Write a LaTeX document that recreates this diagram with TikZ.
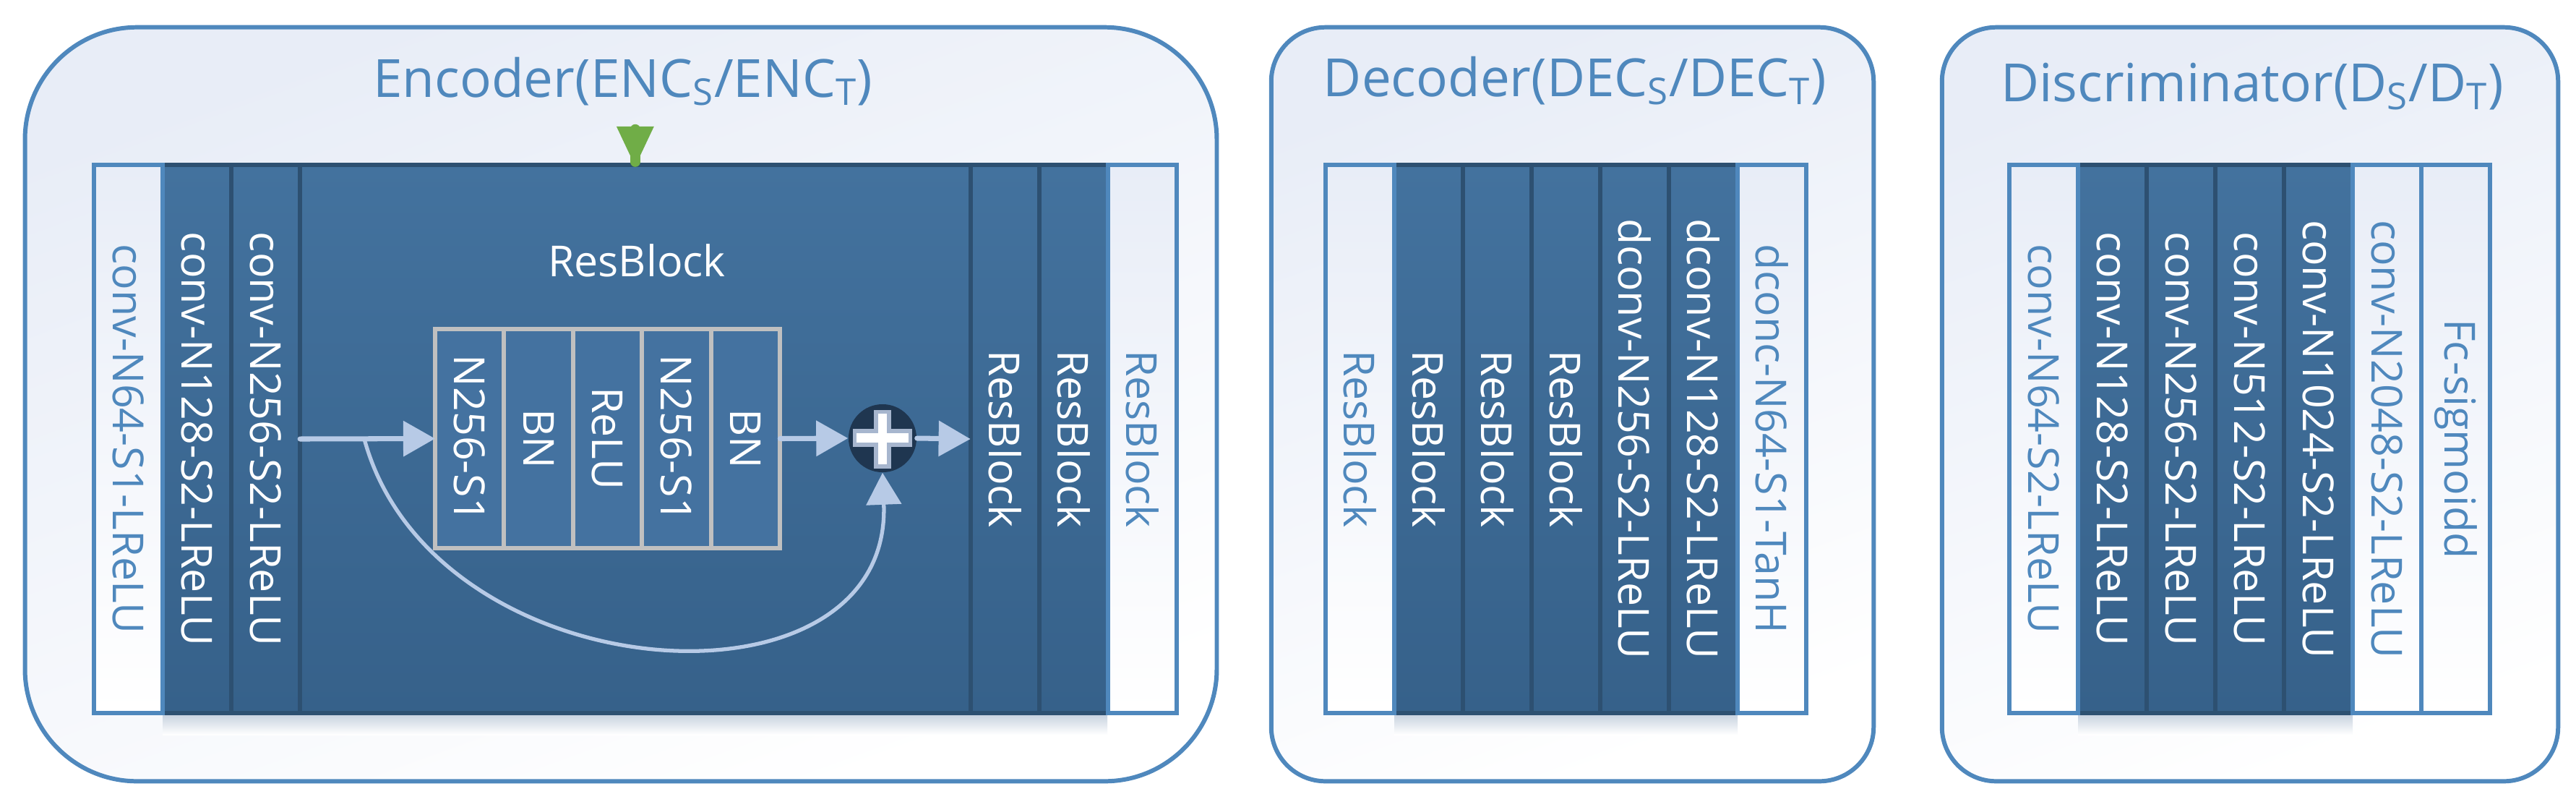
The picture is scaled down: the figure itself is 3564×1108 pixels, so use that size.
\documentclass[tikz,border=0pt]{standalone}
\usepackage{fontspec}
\setmainfont{Open Sans}
\usetikzlibrary{arrows.meta,positioning}
\definecolor{boxblue}{RGB}{79,136,189}
\definecolor{boxfill}{RGB}{232,237,247}
\definecolor{darktop}{RGB}{67,114,158}
\definecolor{darkbot}{RGB}{54,97,138}
\definecolor{darkline}{RGB}{45,80,113}
\definecolor{innerfill}{RGB}{68,114,160}
\definecolor{innerline}{RGB}{192,192,192}
\definecolor{arrowc}{RGB}{183,202,230}
\definecolor{plusdark}{RGB}{31,54,80}
\definecolor{plusedge}{RGB}{167,182,206}
\definecolor{markgreen}{RGB}{112,173,71}
\definecolor{shadowc}{RGB}{197,208,222}

\newcommand{\colfont}{\fontsize{16.8}{20}\selectfont}
\newcommand{\titlefont}{\fontsize{20.7}{25}\selectfont}
\newcommand{\vlabel}[1]{\rotatebox{-90}{#1}}

\tikzset{
  outerbox/.style={draw=boxblue, line width=1.7pt, top color=boxfill, bottom color=white, shading angle=20, inner sep=0pt, outer sep=0pt},
  colbase/.style={rectangle, line width=1.7pt, minimum width=0.95cm, minimum height=7.58cm, inner sep=0pt, outer sep=0pt, font=\colfont},
  lightcol/.style={colbase, draw=boxblue, top color=boxfill, bottom color=white, text=boxblue},
  darkcol/.style={colbase, draw=darkline, top color=darktop, bottom color=darkbot, text=white},
  innercol/.style={colbase, minimum width=0.954cm, minimum height=3.03cm, draw=innerline, fill=innerfill, text=white},
  flow/.style={arrowc, line width=2pt, line cap=round, -{Triangle[length=0.44cm, width=0.48cm]}},
  titletext/.style={font=\titlefont, text=boxblue, anchor=base, inner sep=0pt}
}

\begin{document}
\begin{tikzpicture}[x=0.01cm, y=-0.01cm]
  \useasboundingbox (0,0) rectangle (3564,1108);

  % Encoder
  \node[outerbox, rounded corners=1.55cm, minimum width=16.48cm, minimum height=10.42cm] (enc) at (859,559) {};
  \node[titletext] (enctitle) at (862,134) {Encoder(ENC\textsubscript{S}/ENC\textsubscript{T})};
  \shade[top color=shadowc, bottom color=white] (225,987) rectangle (1532,1016);

  \node[darkcol] (e2) at (272.5,607) {\vlabel{conv-N128-S2-LReLU}};
  \node[darkcol, right=0pt of e2] (e3) {\vlabel{conv-N256-S2-LReLU}};
  \node[darkcol, right=0pt of e3, minimum width=9.27cm] (e4) {};
  \node[darkcol, right=0pt of e4] (e5) {\vlabel{ResBlock}};
  \node[darkcol, right=0pt of e5] (e6) {\vlabel{ResBlock}};
  \node[lightcol, left=0pt of e2] (e1) {\vlabel{conv-N64-S1-LReLU}};
  \node[lightcol, right=0pt of e6] (e7) {\vlabel{ResBlock}};

  % green marker on top of the ResBlock
  \begin{scope}[shift={(e4.north)}]
    \fill[markgreen] (-26,-53) -- (26,-53) -- (0,2) -- cycle;
    \draw[markgreen, line width=0.14cm, line cap=round] (0,-49) -- (0,-4);
  \end{scope}

  % inside the ResBlock
  \node[font=\colfont, text=white] (rbtitle) at (881,360) {ResBlock};
  \node[innercol] (b1) at (649.7,606.5) {\vlabel{N256-S1}};
  \node[innercol, right=0pt of b1] (b2) {\vlabel{BN}};
  \node[innercol, right=0pt of b2] (b3) {\vlabel{ReLU}};
  \node[innercol, right=0pt of b3] (b4) {\vlabel{N256-S1}};
  \node[innercol, right=0pt of b4] (b5) {\vlabel{BN}};

  \node[circle, fill=plusdark, minimum size=0.94cm, inner sep=0pt] (plus) at (1221,606) {};
  \begin{scope}[shift={(plus)}]
    \fill[plusedge] (-41,-13) rectangle (41,12);
    \fill[plusedge] (-12,-39) rectangle (12,42);
    \fill[white] (-36,-7) rectangle (36,6);
    \fill[white] (-6,-34) rectangle (6,36);
  \end{scope}

  \coordinate (skip) at (504,607);
  \draw[flow] (e4.west) -- (b1.west);
  \draw[flow] (b5.east) -- (plus.west);
  \draw[flow] (plus.east) -- (e5.west);
  \draw[flow, line width=1.5pt] (skip) .. controls (600,960) and (1235,1000) .. (plus.south);

  % Decoder
  \node[outerbox, rounded corners=0.75cm, minimum width=8.33cm, minimum height=10.42cm] (dec) at (2175.5,559) {};
  \node[titletext] (dectitle) at (2179,133) {Decoder(DEC\textsubscript{S}/DEC\textsubscript{T})};
  \shade[top color=shadowc, bottom color=white] (1929,987) rectangle (2404,1016);

  \node[darkcol] (d2) at (1976.5,607) {\vlabel{ResBlock}};
  \node[darkcol, right=0pt of d2] (d3) {\vlabel{ResBlock}};
  \node[darkcol, right=0pt of d3] (d4) {\vlabel{ResBlock}};
  \node[darkcol, right=0pt of d4] (d5) {\vlabel{dconv-N256-S2-LReLU}};
  \node[darkcol, right=0pt of d5] (d6) {\vlabel{dconv-N128-S2-LReLU}};
  \node[lightcol, left=0pt of d2] (d1) {\vlabel{ResBlock}};
  \node[lightcol, right=0pt of d6] (d7) {\vlabel{dconc-N64-S1-TanH}};

  % Discriminator
  \node[outerbox, rounded corners=0.75cm, minimum width=8.52cm, minimum height=10.42cm] (disc) at (3113,559) {};
  \node[titletext] (disctitle) at (3116,140) {Discriminator(D\textsubscript{S}/D\textsubscript{T})};
  \shade[top color=shadowc, bottom color=white] (2875,987) rectangle (3255,1016);

  \node[darkcol] (s2) at (2922.5,607) {\vlabel{conv-N128-S2-LReLU}};
  \node[darkcol, right=0pt of s2] (s3) {\vlabel{conv-N256-S2-LReLU}};
  \node[darkcol, right=0pt of s3] (s4) {\vlabel{conv-N512-S2-LReLU}};
  \node[darkcol, right=0pt of s4] (s5) {\vlabel{conv-N1024-S2-LReLU}};
  \node[lightcol, left=0pt of s2] (s1) {\vlabel{conv-N64-S2-LReLU}};
  \node[lightcol, right=0pt of s5] (s6) {\vlabel{conv-N2048-S2-LReLU}};
  \node[lightcol, right=0pt of s6] (s7) {\vlabel{Fc-sigmoidd}};

\end{tikzpicture}
\end{document}
